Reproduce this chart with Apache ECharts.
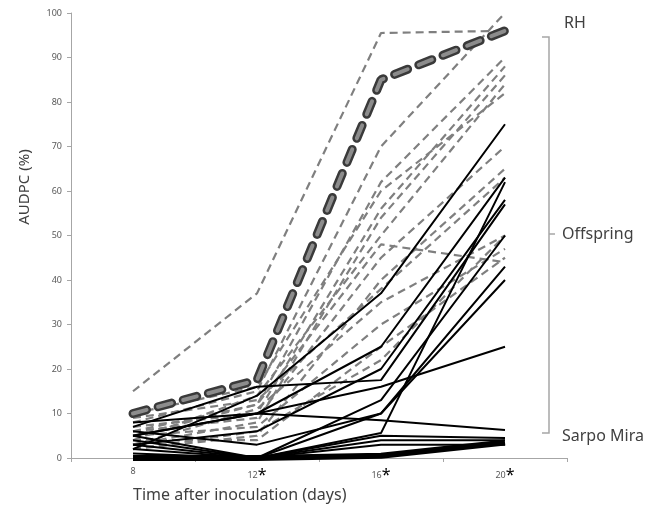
<!DOCTYPE html>
<html>
<head>
<meta charset="utf-8">
<script src="https://cdn.jsdelivr.net/npm/echarts@6/dist/echarts.min.js"></script>
<style>
  html, body { margin: 0; padding: 0; background: #fff; }
  #chart { width: 667px; height: 505px; }
</style>
</head>
<body>
<div id="chart"></div>
<script>
// days after inoculation
const days = ['8', '12', '16', '20'];
const starred = [false, true, true, true];
const yTicks = [0, 10, 20, 30, 40, 50, 60, 70, 80, 90, 100];

// RH parent (thick dashed)
const rh = [10, 17.5, 85, 96];

// Offspring, grey dashed
const grey = [
  [15, 37, 95.5, 96],
  [8, 15, 70, 100],
  [5, 12, 62, 90],
  [7, 10, 56, 88],
  [3, 8, 54, 86],
  [4, 14, 50, 84],
  [10, 16, 60, 82],
  [6, 9, 45, 70],
  [2, 5, 40, 65],
  [9, 13, 38, 63],
  [3, 11, 35, 50],
  [5, 7, 30, 47],
  [4, 4, 25, 45],
  [6, 12, 48, 44],
  [2, 6, 22, 50]
];

// Offspring, black solid
const black = [
  [2, 14, 37, 75],
  [5, 10, 25, 63],
  [3, 6, 20, 58],
  [7, 16, 17.5, 57],
  [1, 0, 13, 50],
  [6, 3, 10, 43],
  [4, 0, 5.6, 62],
  [3, 0, 10, 40],
  [5, 10, 16, 25],
  [8, 10, 8.5, 6.3],
  [2, 0, 4, 4],
  [0, 0, 5, 4.5],
  [5, 0, 3, 3]
];

// Sarpo Mira (thick black)
const sarpo = [0, 0, 0.5, 3.5];

const chart = echarts.init(document.getElementById('chart'));
const font = 'Noto Sans';

const series = [];
grey.forEach((d, i) => {
  series.push({
    name: 'grey' + i, type: 'line', data: d, symbol: 'none', z: 2,
    lineStyle: { color: '#7f7f7f', width: 2.2, type: [8, 5] }
  });
});
black.forEach((d, i) => {
  series.push({
    name: 'black' + i, type: 'line', data: d, symbol: 'none', z: 3,
    lineStyle: { color: '#000', width: 2 }
  });
});
series.push({
  name: 'Sarpo Mira', type: 'line', data: sarpo, symbol: 'none', z: 4,
  lineStyle: { color: '#000', width: 6 }
});
series.push({
  name: 'RH', type: 'line', data: rh, symbol: 'none', z: 5,
  lineStyle: { color: '#3a3a3a', width: 9, type: [14, 12], cap: 'round' }
});
series.push({
  name: 'RH inner', type: 'line', data: rh, symbol: 'none', z: 6,
  lineStyle: { color: '#8c8c8c', width: 4, type: [14, 12], cap: 'round' }
});

const option = {
  animation: false,
  textStyle: { fontFamily: font },
  grid: { left: 71, right: 100, top: 13, bottom: 47 },
  xAxis: {
    type: 'category',
    data: days,
    boundaryGap: true,
    axisLine: { lineStyle: { color: '#a6a6a6', width: 1 } },
    axisTick: { show: true, length: 4, lineStyle: { color: '#a6a6a6' } },
    axisLabel: {
      margin: 9,
      color: '#595959',
      fontSize: 9,
      formatter: (v, i) => starred[i] ? '{n|' + v + '}{s|*}' : '{n|' + v + '}',
      rich: {
        n: { fontSize: 9, color: '#595959', fontFamily: font },
        s: { fontSize: 16, color: '#000', fontFamily: font, verticalAlign: 'top' }
      }
    },
    splitLine: { show: false }
  },
  yAxis: {
    type: 'value',
    min: 0, max: 100, interval: 10,
    axisLine: { show: true, lineStyle: { color: '#a6a6a6', width: 1 } },
    axisTick: { show: true, length: 4, lineStyle: { color: '#a6a6a6' } },
    axisLabel: {
      color: '#595959', fontSize: 9, margin: 9,
      formatter: v => yTicks.includes(v) ? String(v) : ''
    },
    splitLine: { show: false }
  },
  series: series,
  graphic: [
    {
      type: 'text', x: 25, y: 187, rotation: Math.PI / 2,
      style: { text: 'AUDPC (%)', font: '15px "Noto Sans"', fill: '#404040', align: 'center', verticalAlign: 'middle' }
    },
    {
      type: 'text', x: 133, y: 495,
      style: { text: 'Time after inoculation (days)', font: '16px "Noto Sans"', fill: '#404040', align: 'left', verticalAlign: 'middle' }
    },
    {
      type: 'text', x: 564, y: 23,
      style: { text: 'RH', font: '16px "Noto Sans"', fill: '#404040', align: 'left', verticalAlign: 'middle' }
    },
    {
      type: 'text', x: 562, y: 234,
      style: { text: 'Offspring', font: '16px "Noto Sans"', fill: '#404040', align: 'left', verticalAlign: 'middle' }
    },
    {
      type: 'text', x: 562, y: 436,
      style: { text: 'Sarpo Mira', font: '16px "Noto Sans"', fill: '#404040', align: 'left', verticalAlign: 'middle' }
    },
    {
      type: 'polyline',
      shape: { points: [[542, 37], [549, 37], [549, 433], [542, 433]] },
      style: { stroke: '#a6a6a6', lineWidth: 1.5, fill: null }
    },
    {
      type: 'line',
      shape: { x1: 549, y1: 234, x2: 555, y2: 234 },
      style: { stroke: '#a6a6a6', lineWidth: 1.5 }
    }
  ]
};

chart.setOption(option);
</script>
</body>
</html>
